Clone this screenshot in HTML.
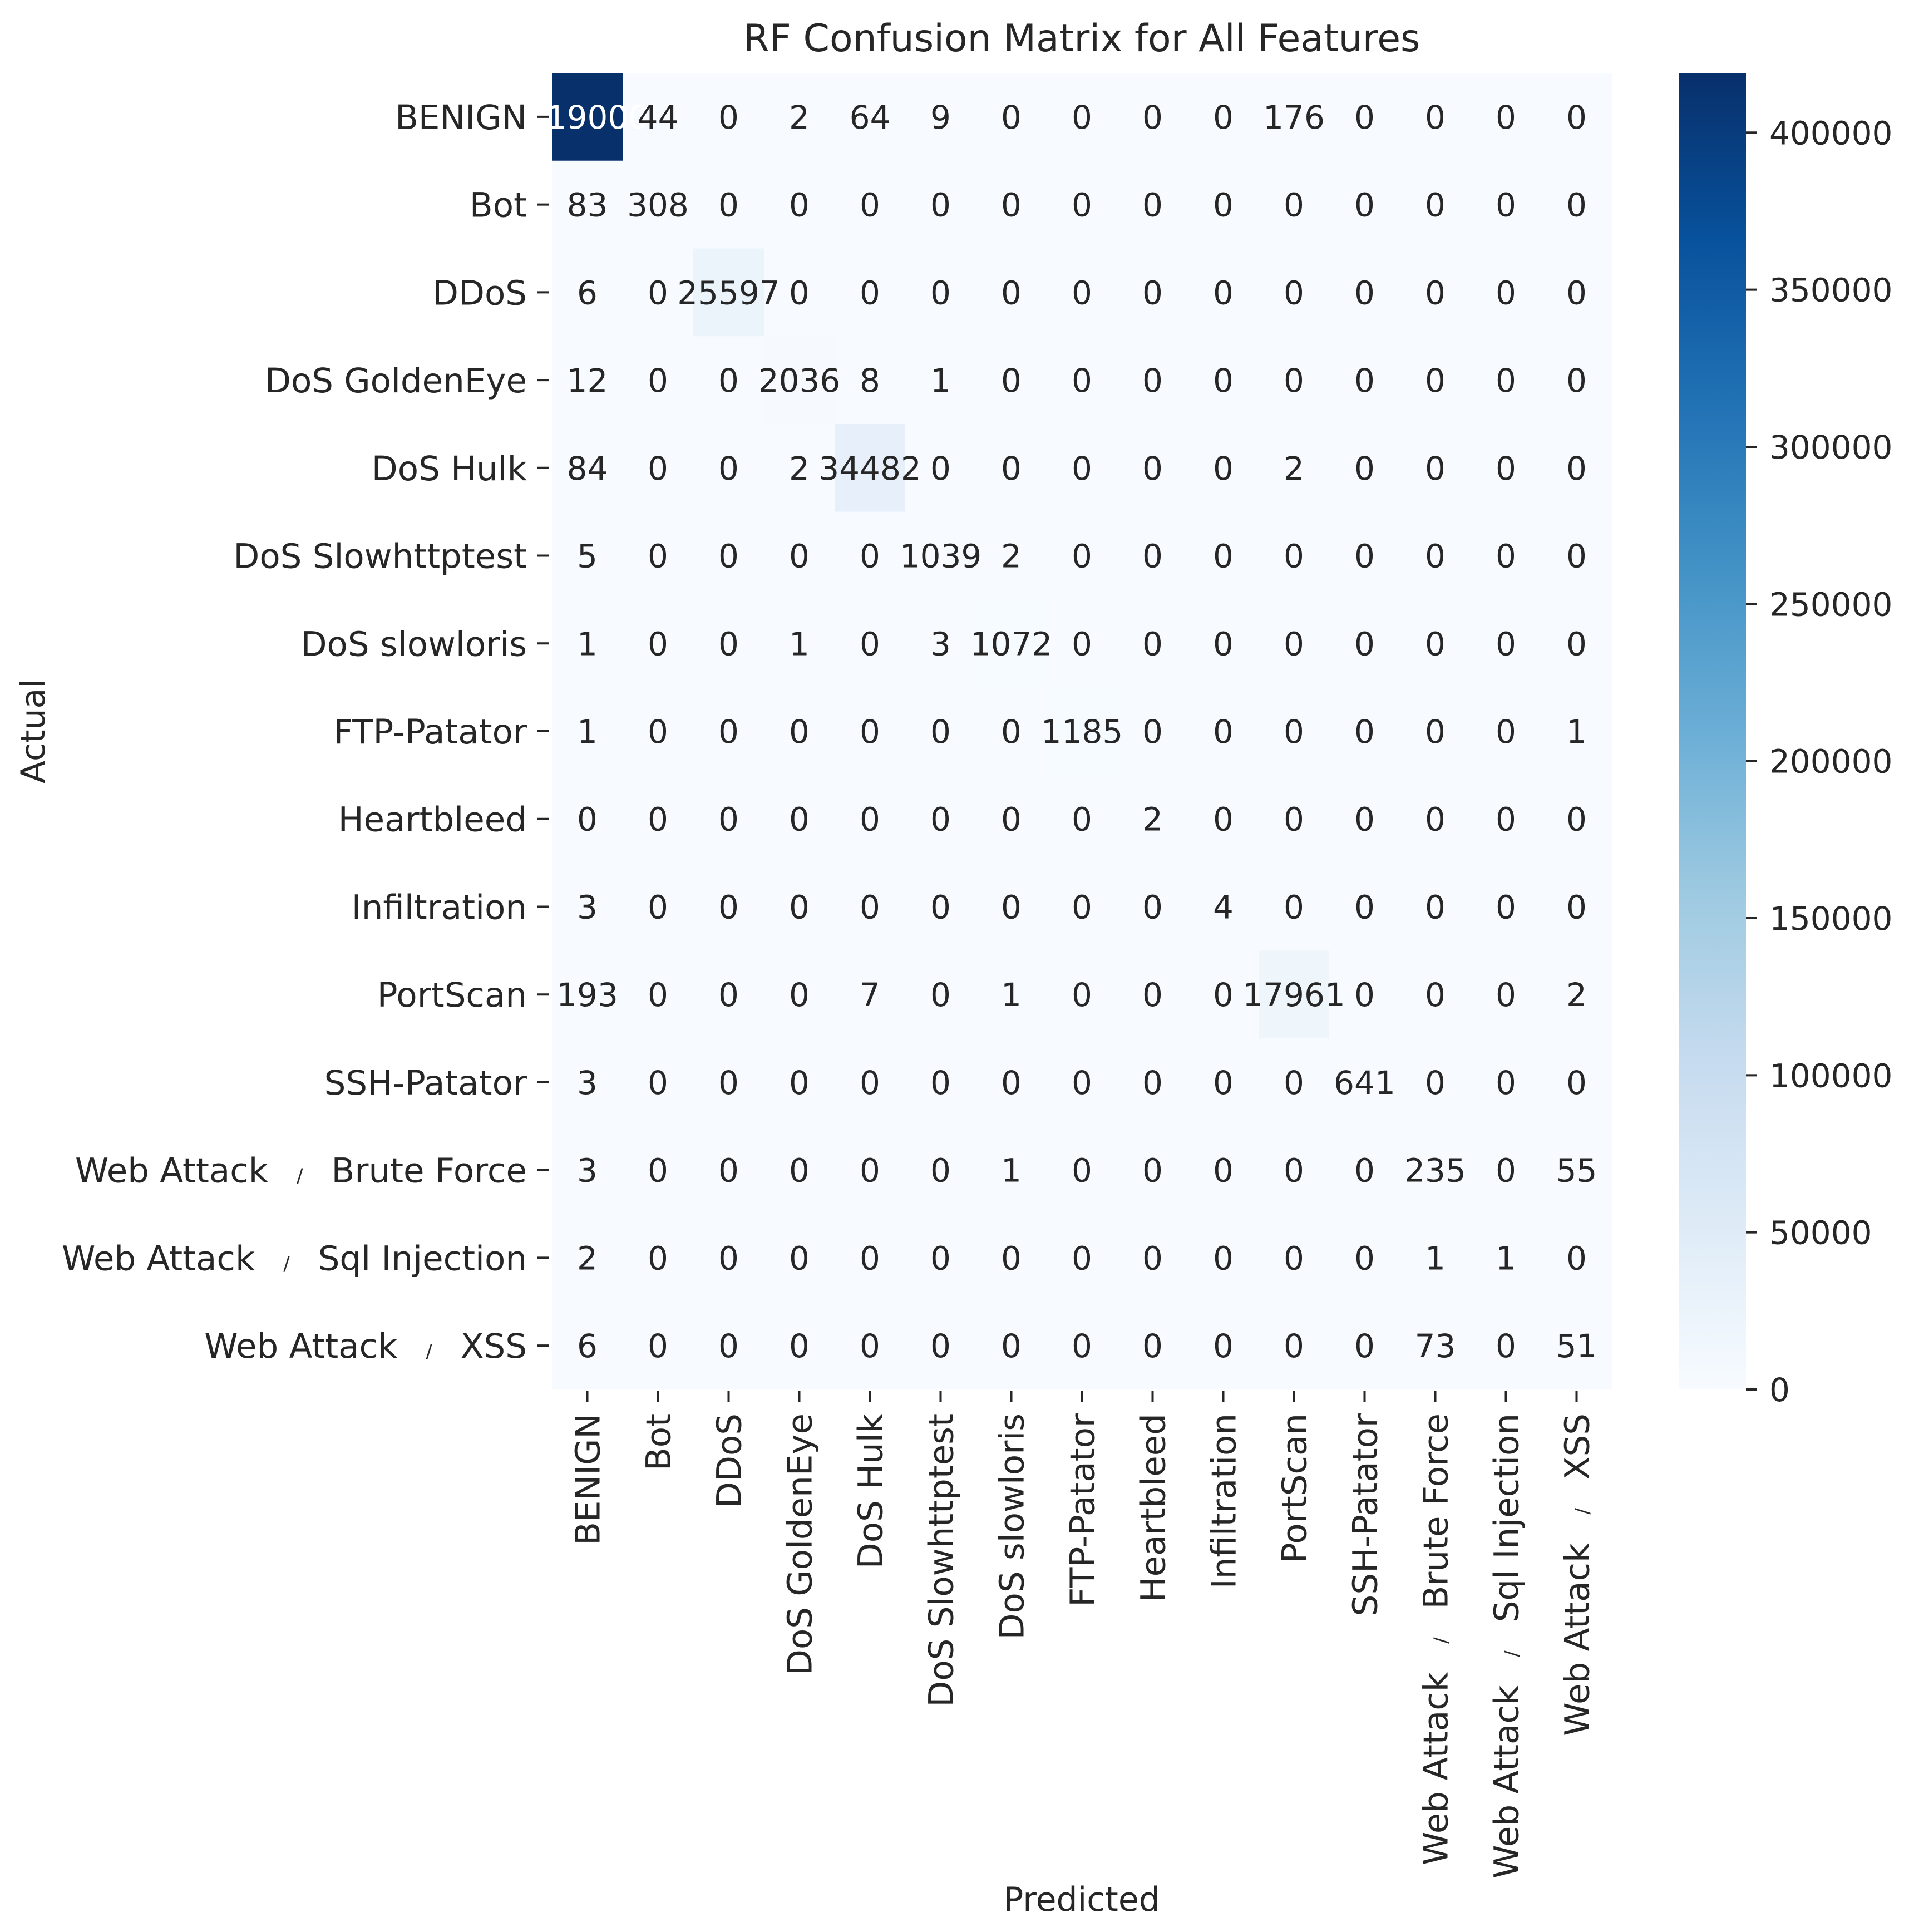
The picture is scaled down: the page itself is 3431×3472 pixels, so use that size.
<!DOCTYPE html>
<html><head><meta charset="utf-8"><style>
html,body{margin:0;padding:0;background:#fff;}
svg{display:block;font-family:"DejaVu Sans","Liberation Sans",sans-serif;}
</style></head><body>
<svg id="chart" width="3431" height="3472" viewBox="0 0 3431 3472" xmlns="http://www.w3.org/2000/svg">
<defs>
<linearGradient id="blues" x1="0" y1="1" x2="0" y2="0">
<stop offset="0" stop-color="#f7fbff"/><stop offset="0.125" stop-color="#deebf7"/>
<stop offset="0.25" stop-color="#c6dbef"/><stop offset="0.375" stop-color="#9ecae1"/>
<stop offset="0.5" stop-color="#6baed6"/><stop offset="0.625" stop-color="#4292c6"/>
<stop offset="0.75" stop-color="#2171b5"/><stop offset="0.875" stop-color="#08519c"/>
<stop offset="1" stop-color="#08306b"/>
</linearGradient>
</defs>
<text x="1944" y="92" font-size="68" text-anchor="middle" fill="#262626">RF Confusion Matrix for All Features</text>
<text x="1944" y="3434" font-size="60" text-anchor="middle" fill="#262626">Predicted</text>
<text transform="translate(80,1314) rotate(-90)" font-size="60" text-anchor="middle" fill="#262626">Actual</text>
<g id="cells"></g><g id="annots"></g><g id="yticks"></g><g id="xticks"></g>
<rect x="3018" y="131" width="120" height="2366" fill="url(#blues)"/>
<g id="cbticks"></g>
</svg>
<script>
const labels = ["BENIGN","Bot","DDoS","DoS GoldenEye","DoS Hulk","DoS Slowhttptest","DoS slowloris","FTP-Patator","Heartbleed","Infiltration","PortScan","SSH-Patator","Web Attack / Brute Force","Web Attack / Sql Injection","Web Attack / XSS"];
const row0 = [419000,44,0,2,64,9,0,0,0,0,176,0,0,0,0];
const row1 = [83,308,0,0,0,0,0,0,0,0,0,0,0,0,0];
const row2 = [6,0,25597,0,0,0,0,0,0,0,0,0,0,0,0];
const row3 = [12,0,0,2036,8,1,0,0,0,0,0,0,0,0,0];
const row4 = [84,0,0,2,34482,0,0,0,0,0,2,0,0,0,0];
const row5 = [5,0,0,0,0,1039,2,0,0,0,0,0,0,0,0];
const row6 = [1,0,0,1,0,3,1072,0,0,0,0,0,0,0,0];
const row7 = [1,0,0,0,0,0,0,1185,0,0,0,0,0,0,1];
const row8 = [0,0,0,0,0,0,0,0,2,0,0,0,0,0,0];
const row9 = [3,0,0,0,0,0,0,0,0,4,0,0,0,0,0];
const row10 = [193,0,0,0,7,0,1,0,0,0,17961,0,0,0,2];
const row11 = [3,0,0,0,0,0,0,0,0,0,0,641,0,0,0];
const row12 = [3,0,0,0,0,0,1,0,0,0,0,0,235,0,55];
const row13 = [2,0,0,0,0,0,0,0,0,0,0,0,1,1,0];
const row14 = [6,0,0,0,0,0,0,0,0,0,0,0,73,0,51];
const matrix = [row0,row1,row2,row3,row4,row5,row6,row7,row8,row9,row10,row11,row12,row13,row14];
const cbTicks = [0,50000,100000,150000,200000,250000,300000,350000,400000];

const vmax = Math.max(...matrix.map(r=>Math.max(...r)));
const NS="http://www.w3.org/2000/svg";
const L=992,R=2897,T=131,B=2497,n=labels.length;
const cw=(R-L)/n, ch=(B-T)/n;
const xPos=i=>L+i*cw, yPos=i=>T+i*ch;
const cbY=v=>B-(v/vmax)*(B-T);
const stops=[[247,251,255],[222,235,247],[198,219,239],[158,202,225],[107,174,214],[66,146,198],[33,113,181],[8,81,156],[8,48,107]];
function blues(t){t=Math.max(0,Math.min(1,t));const p=t*8,i=Math.min(7,Math.floor(p)),f=p-i;const a=stops[i],b=stops[i+1];return `rgb(${a.map((v,k)=>Math.round(v+(b[k]-v)*f)).join(',')})`;}
function mk(tag,attrs,parent){const e=document.createElementNS(NS,tag);for(const k in attrs)e.setAttribute(k,attrs[k]);parent.appendChild(e);return e;}
const cells=document.getElementById('cells'),ann=document.getElementById('annots');
matrix.forEach((row,r)=>row.forEach((v,c)=>{
  const t=v/vmax;
  const rc=mk('rect',{x:xPos(c),y:yPos(r),width:cw+0.5,height:ch+0.5,fill:blues(t)},cells);
  
  
  const tx=mk('text',{x:xPos(c)+cw/2,y:yPos(r)+ch/2+21,'font-size':58,'text-anchor':'middle',fill:t>0.5?'#ffffff':'#262626'},ann);
  tx.textContent=v;
  
  
}));
function labelText(el,s){
  const parts=s.split(' / ');
  if(parts.length===1){el.textContent=s;return;}
  const a=document.createElementNS(NS,'tspan');a.textContent=parts[0]+'\u00a0\u00a0\u2009';el.appendChild(a);
  const b=document.createElementNS(NS,'tspan');b.setAttribute('font-size','34');b.textContent='/';el.appendChild(b);
  const c=document.createElementNS(NS,'tspan');c.textContent='\u2009\u00a0\u00a0'+parts[1];el.appendChild(c);
}
const yt=document.getElementById('yticks'),xt=document.getElementById('xticks');
labels.forEach((s,i)=>{
  const cy=yPos(i)+ch/2;
  const ln=mk('line',{x1:966,x2:986,y1:cy,y2:cy,stroke:'#262626','stroke-width':4},yt);
  
  
  const t=mk('text',{x:947,y:cy+22,'font-size':61,'text-anchor':'end',fill:'#262626'},yt);
  labelText(t,s);
  
  
  const cx=xPos(i)+cw/2;
  const l2=mk('line',{x1:cx,x2:cx,y1:2499,y2:2519,stroke:'#262626','stroke-width':4},xt);
  
  
  const t2=mk('text',{'font-size':61,'text-anchor':'end',fill:'#262626',transform:`translate(${cx+22},2540) rotate(-90)`},xt);
  labelText(t2,s);
  
  
});
const cbt=document.getElementById('cbticks');
cbTicks.forEach(v=>{
  const y=cbY(v);
  const ln=mk('line',{x1:3138,x2:3158,y1:y,y2:y,stroke:'#262626','stroke-width':4},cbt);
  
  
  const t=mk('text',{x:3180,y:y+21,'font-size':58,fill:'#262626'},cbt);
  t.textContent=v;
  
  
});
</script>
</body></html>
